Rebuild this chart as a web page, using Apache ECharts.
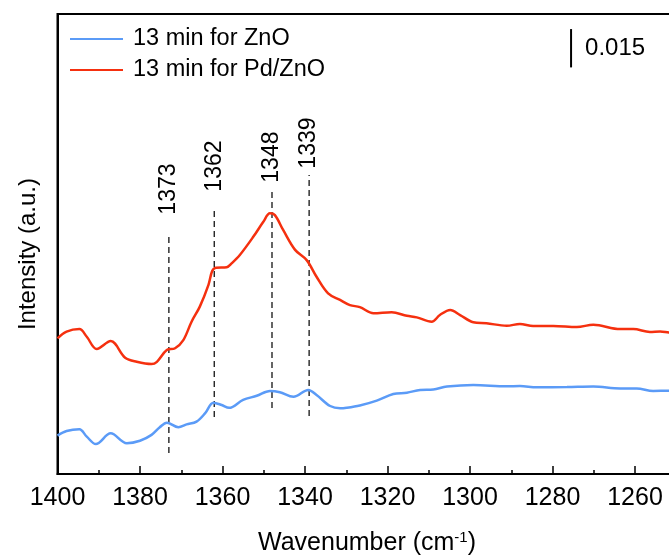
<!DOCTYPE html>
<html>
<head>
<meta charset="utf-8">
<script src="https://cdn.jsdelivr.net/npm/echarts@6/dist/echarts.min.js"></script>
<style>
  html, body { margin: 0; padding: 0; background: #fff; }
  #chart { width: 669px; height: 556px; }
</style>
</head>
<body>
<div id="chart"></div>
<script>
// Wavenumber (cm^-1) and absorbance of the two in-situ spectra
const wnZnO = [1400, 1397.8, 1394.7, 1392.9, 1390.7, 1387.1, 1383.2, 1380.0, 1377.2, 1375.2,
  1373.5, 1370.7, 1368.7, 1366.3, 1364.2, 1362.2, 1360.2, 1358.4, 1355.0, 1351.7,
  1348.5, 1346.1, 1342.8, 1339.2, 1337.2, 1333.9, 1331.5, 1329.9, 1326.7, 1322.6,
  1318.6, 1315.3, 1312.1, 1308.9, 1305.6, 1299.2, 1291.1, 1287.9, 1283.8, 1276.5,
  1270.1, 1263.6, 1259.6, 1255.6, 1251.8, 1250];
const absZnO = [0.0150, 0.0168, 0.0175, 0.0146, 0.0117, 0.0159, 0.0120, 0.0130, 0.0153, 0.0183,
  0.0201, 0.0183, 0.0194, 0.0205, 0.0238, 0.0279, 0.0270, 0.0259, 0.0290, 0.0306,
  0.0325, 0.0320, 0.0302, 0.0329, 0.0309, 0.0266, 0.0257, 0.0259, 0.0268, 0.0287,
  0.0313, 0.0318, 0.0329, 0.0331, 0.0342, 0.0348, 0.0343, 0.0344, 0.0339, 0.0340,
  0.0342, 0.0335, 0.0335, 0.0325, 0.0326, 0.0326];

const wnPd = [1400, 1397.8, 1394.7, 1392.9, 1390.5, 1387.1, 1383.6, 1380.8, 1377.2, 1375.9,
  1373.5, 1371.5, 1369.5, 1367.5, 1365.5, 1363.4, 1362.5, 1361.6, 1359.0, 1357.8,
  1355.8, 1352.5, 1350.1, 1348.5, 1347.3, 1345.3, 1342.4, 1339.6, 1337.2, 1334.4,
  1331.5, 1329.1, 1326.7, 1323.4, 1319.0, 1315.3, 1312.9, 1309.3, 1307.3, 1304.8,
  1302.4, 1299.2, 1296.0, 1291.1, 1287.9, 1284.7, 1279.8, 1274.1, 1270.1, 1263.6,
  1260.4, 1256.4, 1253.9, 1251.8, 1250];
const absPd = [0.0531, 0.0557, 0.0567, 0.0537, 0.0489, 0.0520, 0.0455, 0.0439, 0.0430, 0.0439,
  0.0485, 0.0492, 0.0524, 0.0596, 0.0655, 0.0740, 0.0794, 0.0807, 0.0809, 0.0824,
  0.0857, 0.0929, 0.0987, 0.1020, 0.1013, 0.0955, 0.0877, 0.0837, 0.0772, 0.0707,
  0.0681, 0.0661, 0.0653, 0.0629, 0.0633, 0.0619, 0.0613, 0.0596, 0.0622, 0.0642,
  0.0622, 0.0594, 0.0590, 0.0580, 0.0587, 0.0579, 0.0579, 0.0575, 0.0584, 0.0567,
  0.0567, 0.0556, 0.0558, 0.0554, 0.0553];

// Band positions marked with dashed guides
const bandPos = [1373, 1362, 1348, 1339];
const bandLow = [0.0082, 0.0223, 0.0258, 0.0227];
const bandHigh = [0.0943, 0.1045, 0.1107, 0.1170];
const bandLabelY = [0.1115, 0.1205, 0.1240, 0.1295];

// Intensity scale bar
const scaleBarX = 1275.5;
const scaleBarTop = 0.1741;
const scaleBarSize = 0.015;

const seriesNames = ['13 min for ZnO', '13 min for Pd/ZnO'];
const seriesColors = ['#5b9bf7', '#f5300f'];

const FONT = 'Liberation Sans, Arial, Helvetica, sans-serif';

const zip = (xs, ys) => xs.map((x, i) => [x, ys[i]]);

const chart = echarts.init(document.getElementById('chart'), null, { renderer: 'canvas' });

const bandSeries = bandPos.map((p, i) => ({
  type: 'line',
  data: [[p, bandLow[i]], [p, bandHigh[i]]],
  symbol: 'none',
  silent: true,
  lineStyle: { color: '#111', width: 1.3, type: [6, 4] },
  z: 1
}));

chart.setOption({
  animation: false,
  backgroundColor: '#fff',
  grid: {
    left: 57.5, top: 14, width: 660, height: 460,
    outerBoundsMode: 'none',
    containLabel: false,
    show: true, borderColor: '#000', borderWidth: 2, backgroundColor: 'transparent'
  },
  legend: {
    data: seriesNames,
    orient: 'vertical',
    left: 65, top: 22,
    itemWidth: 53, itemHeight: 20, itemGap: 7,
    icon: 'path://M0,9 L53,9 L53,11 L0,11 Z',
    textStyle: { fontFamily: FONT, fontSize: 23.5, color: '#000', padding: [0, 0, 0, 5] }
  },
  xAxis: {
    type: 'value',
    min: 1240, max: 1400, interval: 20,
    inverse: true,
    name: '{a|Wavenumber (cm}{s|-1}{a|)}',
    nameLocation: 'middle',
    nameGap: 56,
    nameTextStyle: {
      padding: [0, 41, 0, 0],
      rich: {
        a: { fontFamily: FONT, fontSize: 25, color: '#000' },
        s: { fontFamily: FONT, fontSize: 15, color: '#000', verticalAlign: 'top', padding: [0, 0, 12, 0] }
      }
    },
    axisLine: { lineStyle: { color: '#000', width: 2 } },
    axisTick: { inside: true, length: 8, lineStyle: { color: '#000', width: 1.5 } },
    minorTick: { show: true, splitNumber: 2, length: 4, lineStyle: { color: '#000', width: 1.5 } },
    axisLabel: {
      fontFamily: FONT, fontSize: 25, color: '#000', margin: 12,
      showMinLabel: true, showMaxLabel: true,
      formatter: (v) => String(v)
    },
    splitLine: { show: false }
  },
  yAxis: {
    type: 'value',
    min: 0, max: 0.18,
    axisLine: { show: true, lineStyle: { color: '#000', width: 2 } },
    axisTick: { show: false },
    axisLabel: { show: false },
    splitLine: { show: false }
  },
  graphic: [{
    type: 'text',
    left: 16, top: 178,
    rotation: Math.PI / 2,
    style: { text: 'Intensity (a.u.)', font: '24px ' + FONT, fill: '#000' }
  }],
  series: [
    {
      name: seriesNames[0], type: 'line', data: zip(wnZnO, absZnO),
      symbol: 'none', smooth: 0.35, color: seriesColors[0],
      lineStyle: { width: 2.5, color: seriesColors[0] }, z: 3
    },
    {
      name: seriesNames[1], type: 'line', data: zip(wnPd, absPd),
      symbol: 'none', smooth: 0.35, color: seriesColors[1],
      lineStyle: { width: 2.5, color: seriesColors[1] }, z: 3
    },
    ...bandSeries,
    {
      type: 'scatter',
      data: bandPos.map((p, i) => [p, bandLabelY[i]]),
      symbolSize: 0,
      silent: true,
      itemStyle: { opacity: 1 },
      label: {
        show: true, position: 'inside', rotate: 90, opacity: 1,
        formatter: (d) => String(d.value[0]),
        fontFamily: FONT, fontSize: 23, color: '#000'
      }
    },
    {
      type: 'line',
      data: [[scaleBarX, scaleBarTop], [scaleBarX, scaleBarTop - scaleBarSize]],
      symbol: 'none', silent: true,
      lineStyle: { color: '#000', width: 2 }
    },
    {
      type: 'scatter',
      data: [[scaleBarX, scaleBarTop - scaleBarSize / 2]],
      symbolSize: 0, silent: true,
      itemStyle: { opacity: 1 },
      label: {
        show: true, position: 'right', distance: 14, opacity: 1,
        formatter: String(scaleBarSize),
        fontFamily: FONT, fontSize: 24, color: '#000'
      }
    }
  ]
});
</script>
</body>
</html>
